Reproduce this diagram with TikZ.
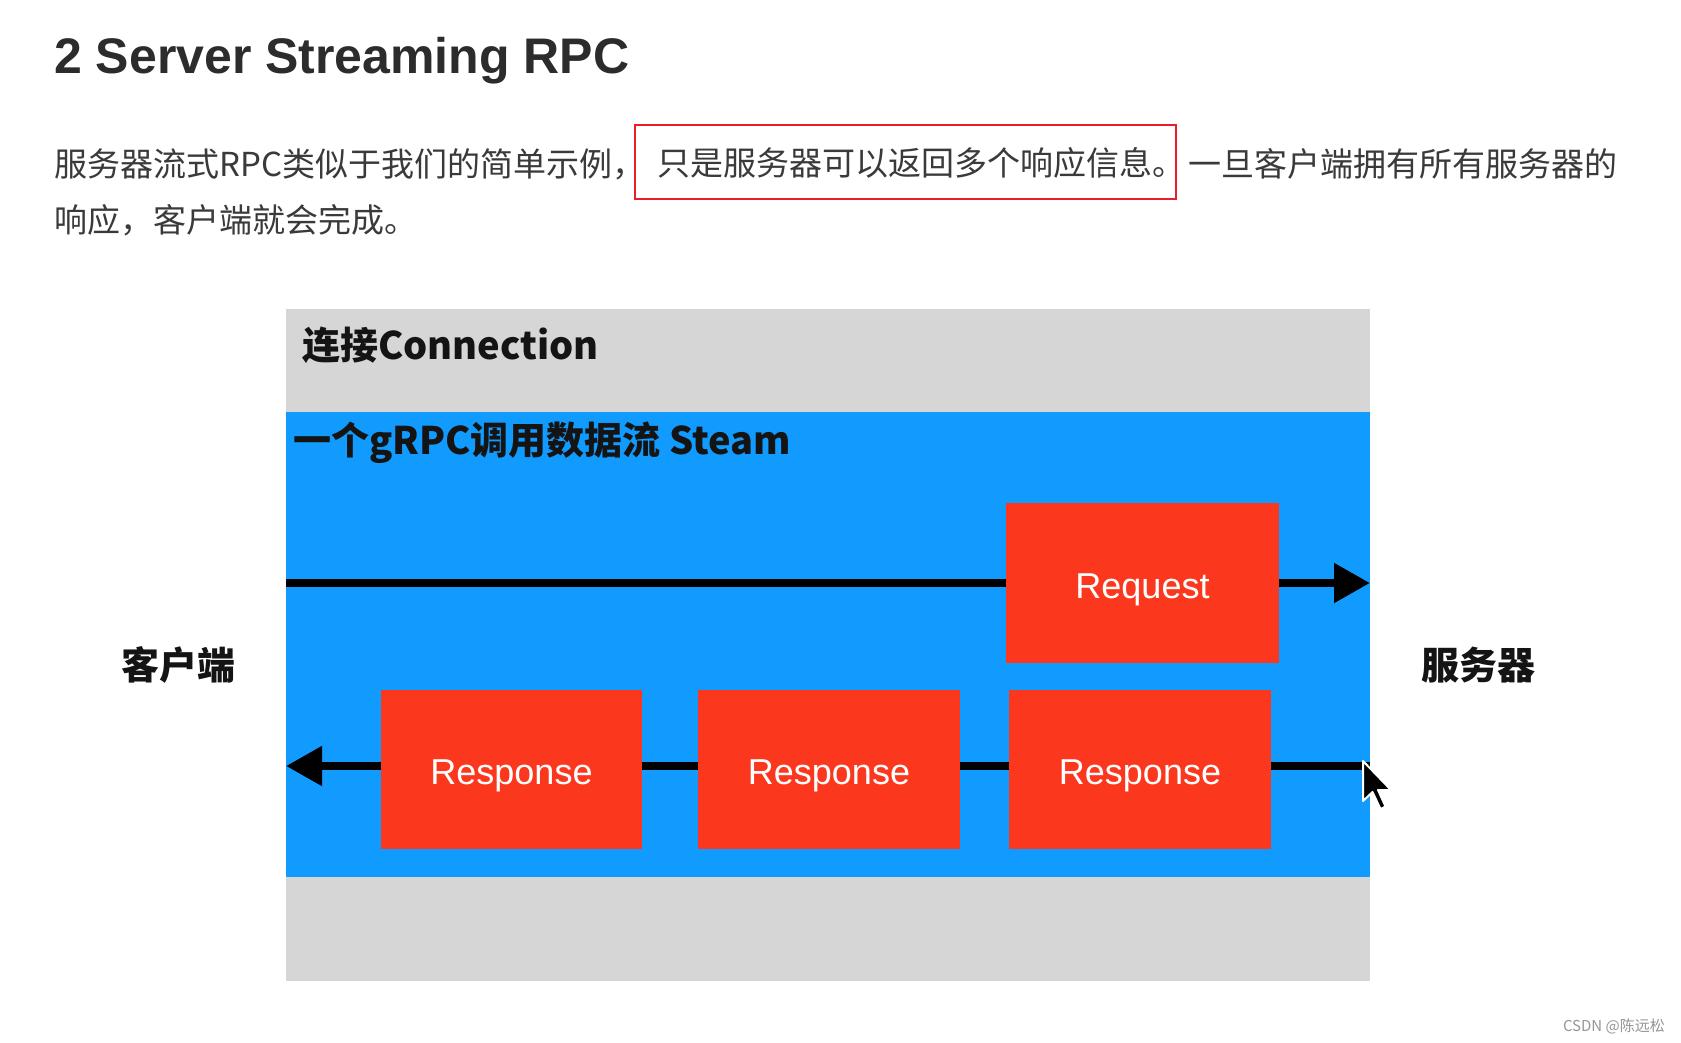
\documentclass[tikz,border=0pt]{standalone}
\usepackage{fontspec}
\setmainfont{Liberation Sans}
\newfontfamily\cjk{Noto Sans CJK SC}
\usetikzlibrary{arrows.meta}
\definecolor{titlegray}{RGB}{44,44,44}
\definecolor{textgray}{RGB}{58,58,58}
\definecolor{boxred}{RGB}{232,30,40}
\definecolor{conngray}{RGB}{214,214,214}
\definecolor{streamblue}{RGB}{18,155,255}
\definecolor{msgred}{RGB}{251,56,30}
\definecolor{markgray}{RGB}{150,150,150}
\tikzset{
  para/.style={inner sep=0pt, text=textgray, font=\cjk\fontsize{33}{40}\selectfont},
  heading/.style={inner sep=0pt, text=black!92, font=\cjk\bfseries\fontsize{38}{44}\selectfont},
  msgbox/.style={fill=msgred, draw=none, text=white, inner sep=0pt, text height=25.8pt, text depth=0pt, font=\fontsize{36}{42}\selectfont},
  flow/.style={line width=8pt, draw=black, -{Triangle[length=36pt,width=38pt]}},
}
\begin{document}
\begin{tikzpicture}[x=1pt,y=-1pt]
\useasboundingbox (0,0) rectangle (1681,1042);
\fill[white] (0,0) rectangle (1681,1042);

% title
\node[anchor=base west, inner sep=0pt, text=titlegray, font=\bfseries\fontsize{50}{60}\selectfont] (title) at (54,73) {2 Server Streaming RPC};

% paragraph
\node[para, anchor=west] (p1a) at (54,164) {服务器流式RPC类似于我们的简单示例，};
\draw[boxred, line width=2.5pt] (635,125) rectangle (1176,199);
\node[para, anchor=west] (p1b) at (657,163) {只是服务器可以返回多个响应信息。};
\node[para, anchor=west] (p1c) at (1188,164) {一旦客户端拥有所有服务器的};
\node[para, anchor=west] (p2) at (54,220) {响应，客户端就会完成。};

% connection and stream
\fill[conngray] (286,309) rectangle (1370,981);
\fill[streamblue] (286,412) rectangle (1370,877);
\node[heading, anchor=west] (conn) at (302,345) {连接Connection};
\node[heading, anchor=west] (stream) at (293,443) {一个gRPC调用数据流 Steam};

% arrows
\coordinate (reqstart) at (286,583);
\coordinate (reqend) at (1370,583);
\coordinate (resstart) at (1370,766);
\coordinate (resend) at (286,766);
\draw[flow] (reqstart) -- (reqend);
\draw[flow] (resstart) -- (resend);

% messages
\node[msgbox, minimum width=273pt, minimum height=160pt] (req) at (1142.5,583) {};
\node[msgbox, minimum width=261pt, minimum height=159pt] (res1) at (511.5,769.5) {};
\node[msgbox, minimum width=262pt, minimum height=159pt] (res2) at (829,769.5) {};
\node[msgbox, minimum width=262pt, minimum height=159pt] (res3) at (1140,769.5) {};
\node[msgbox, fill=none] (reqtext) at ([yshift=-2.5pt]req.center) {Request};
\node[msgbox, fill=none] (res1text) at ([yshift=-2.5pt]res1.center) {Response};
\node[msgbox, fill=none] (res2text) at ([yshift=-2.5pt]res2.center) {Response};
\node[msgbox, fill=none] (res3text) at ([yshift=-2.5pt]res3.center) {Response};

% side labels
\node[heading] (client) at (178,665) {客户端};
\node[heading] (server) at (1478,665) {服务器};

% mouse cursor
\filldraw[fill=black, draw=white, line width=2pt, line join=round]
  (1363,761) -- ++(0,40) -- ++(9.5,-9) -- ++(8,17) -- ++(5,-2.5) -- ++(-7.5,-16.5) -- ++(13,0) -- cycle;

% watermark
\node[anchor=east, inner sep=0pt, text=markgray, font=\cjk\fontsize{15}{18}\selectfont] (mark) at (1665,1026) {CSDN @陈远松};
\end{tikzpicture}
\end{document}
